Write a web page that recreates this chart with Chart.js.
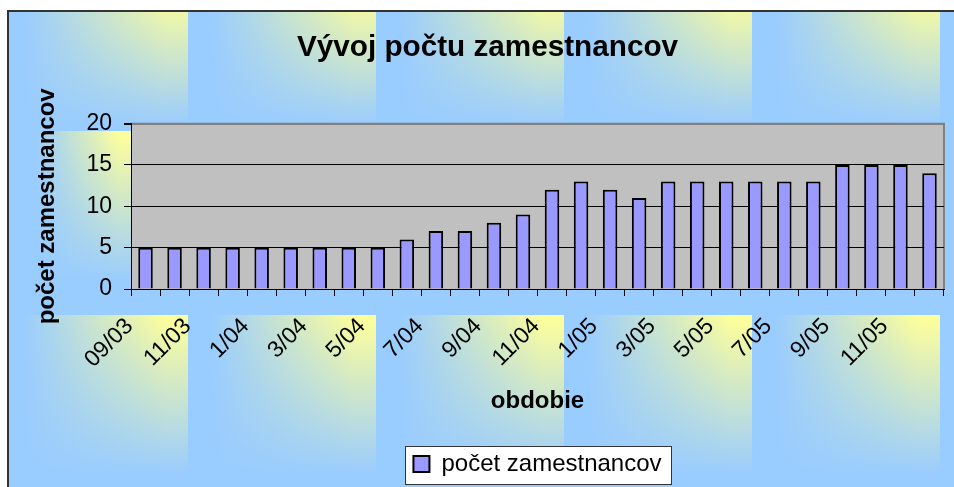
<!DOCTYPE html>
<html>
<head>
<meta charset="utf-8">
<script src="https://cdn.jsdelivr.net/npm/chart.js@4/dist/chart.umd.min.js"></script>
<style>
  html, body { margin: 0; padding: 0; background: #fff; }
  #wrap { width: 954px; height: 487px; }
</style>
</head>
<body>
<div id="wrap"><canvas id="c" width="954" height="487"></canvas></div>
<script>
const months = ['09/03', '10/03', '11/03', '12/03', '1/04', '2/04', '3/04', '4/04', '5/04', '6/04',
  '7/04', '8/04', '9/04', '10/04', '11/04', '12/04', '1/05', '2/05', '3/05', '4/05',
  '5/05', '6/05', '7/05', '8/05', '9/05', '10/05', '11/05', '12/05'];
const headcount = [5, 5, 5, 5, 5, 5, 5, 5, 5, 6, 7, 7, 8, 9, 12, 13, 12, 11, 13, 13,
  13, 13, 13, 13, 15, 15, 15, 14];
const seriesName = 'počet zamestnancov';

const FONT = "'Liberation Sans', Arial, sans-serif";
const BLUE = '#99CCFF';
const YELLOW = '#FFFF99';

// one tile of the excel-like background texture
function tile(ctx, x, y, w, h, fade, topAlpha) {
  ctx.save();
  ctx.beginPath();
  ctx.rect(x, y, w, h);
  ctx.clip();
  const gh = ctx.createLinearGradient(x, 0, x + w, 0);
  gh.addColorStop(0, BLUE);
  gh.addColorStop(0.12, BLUE);
  gh.addColorStop(0.88, YELLOW);
  gh.addColorStop(1, YELLOW);
  ctx.fillStyle = gh;
  ctx.fillRect(x, y, w, h);
  const gv = ctx.createLinearGradient(0, y, 0, y + fade);
  gv.addColorStop(0, 'rgba(153,204,255,' + topAlpha + ')');
  gv.addColorStop(1, 'rgba(153,204,255,1)');
  ctx.fillStyle = gv;
  ctx.fillRect(x, y, w, h);
  ctx.restore();
}

const background = {
  id: 'background',
  beforeDraw(chart) {
    const { ctx, chartArea: a } = chart;
    ctx.save();
    ctx.fillStyle = '#fff';
    ctx.fillRect(0, 0, chart.width, chart.height);

    // chart frame
    ctx.beginPath();
    ctx.rect(8, 11, chart.width - 8, chart.height - 11);
    ctx.clip();
    ctx.fillStyle = BLUE;
    ctx.fillRect(8, 11, chart.width - 8, chart.height - 11);
    for (let cx = 0; cx < chart.width; cx += 188) {
      tile(ctx, cx, 11, 188, 304, 115, 0.15);
      tile(ctx, cx, 315, 188, 172, 160, 0);
    }
    tile(ctx, 23, 131, 108, 184, 150, 0);
    ctx.restore();

    ctx.save();
    ctx.strokeStyle = '#333';
    ctx.lineWidth = 2;
    ctx.beginPath();
    ctx.moveTo(8, chart.height);
    ctx.lineTo(8, 11);
    ctx.lineTo(chart.width, 11);
    ctx.stroke();

    // plot area
    ctx.fillStyle = '#C0C0C0';
    ctx.fillRect(a.left, a.top, a.right - a.left, a.bottom - a.top);
    ctx.strokeStyle = '#808080';
    ctx.lineWidth = 2;
    ctx.beginPath();
    ctx.moveTo(a.left, a.top);
    ctx.lineTo(a.right, a.top);
    ctx.lineTo(a.right, a.bottom);
    ctx.stroke();

    // legend frame
    const lg = chart.legend;
    if (lg && lg.legendHitBoxes && lg.legendHitBoxes.length) {
      const hb = lg.legendHitBoxes[0];
      const bx = Math.round(hb.left - 8) + 0.5;
      const by = Math.round(hb.top - 6) + 0.5;
      const bw = Math.round(hb.width + 18);
      const bh = Math.round(hb.height + 14);
      ctx.fillStyle = '#fff';
      ctx.fillRect(bx, by, bw, bh);
      ctx.strokeStyle = '#333';
      ctx.lineWidth = 1;
      ctx.strokeRect(bx, by, bw, bh);
    }
    ctx.restore();
  }
};

new Chart(document.getElementById('c'), {
  type: 'bar',
  data: {
    labels: months,
    datasets: [{
      label: seriesName,
      data: headcount,
      backgroundColor: '#9999FF',
      borderColor: '#000',
      borderWidth: 2,
      barPercentage: 0.5,
      categoryPercentage: 1
    }]
  },
  options: {
    responsive: false,
    devicePixelRatio: 1,
    animation: false,
    layout: { padding: { left: 31, right: 10, top: 11, bottom: 1 } },
    plugins: {
      title: {
        display: true,
        text: 'Vývoj počtu zamestnancov',
        color: '#000',
        font: { family: FONT, size: 29.7, weight: 'bold' },
        padding: { top: 19, bottom: 58 }
      },
      legend: {
        position: 'bottom',
        fullSize: false,
        labels: {
          color: '#000',
          font: { family: FONT, size: 24 },
          boxWidth: 16,
          boxHeight: 16,
          padding: 27
        }
      },
      tooltip: { enabled: false }
    },
    scales: {
      x: {
        afterFit(s) {
          s.height = 136;
          s.paddingLeft = 0;
          s.paddingRight = 0;
        },
        grid: {
          offset: true,
          drawOnChartArea: false,
          drawTicks: true,
          tickLength: 7,
          tickColor: '#000'
        },
        border: { color: '#000', width: 1 },
        ticks: {
          autoSkip: false,
          maxRotation: 45,
          minRotation: 45,
          padding: 17,
          labelOffset: -16,
          color: '#000',
          font: { family: FONT, size: 23 },
          callback: (v, i) => i % 2 === 0 ? months[i] : ''
        },
        title: {
          display: true,
          text: 'obdobie',
          color: '#000',
          font: { family: FONT, size: 24, weight: 'bold' },
          padding: { top: 0, bottom: 9 }
        }
      },
      y: {
        min: 0,
        max: 20,
        afterFit(s) { s.width = 100; },
        grid: {
          color: c => (c.tick && c.tick.value === 20) ? '#808080' : '#000',
          lineWidth: c => (c.tick && c.tick.value === 20) ? 2 : 1,
          drawTicks: true,
          tickLength: 7,
          tickColor: '#000'
        },
        border: { color: '#000', width: 1 },
        ticks: {
          stepSize: 5,
          padding: 12,
          color: '#000',
          font: { family: FONT, size: 23 }
        },
        title: {
          display: true,
          text: 'počet zamestnancov',
          color: '#000',
          font: { family: FONT, size: 24, weight: 'bold' },
          padding: { top: 2, bottom: 0 }
        }
      }
    }
  },
  plugins: [background]
});
</script>
</body>
</html>
